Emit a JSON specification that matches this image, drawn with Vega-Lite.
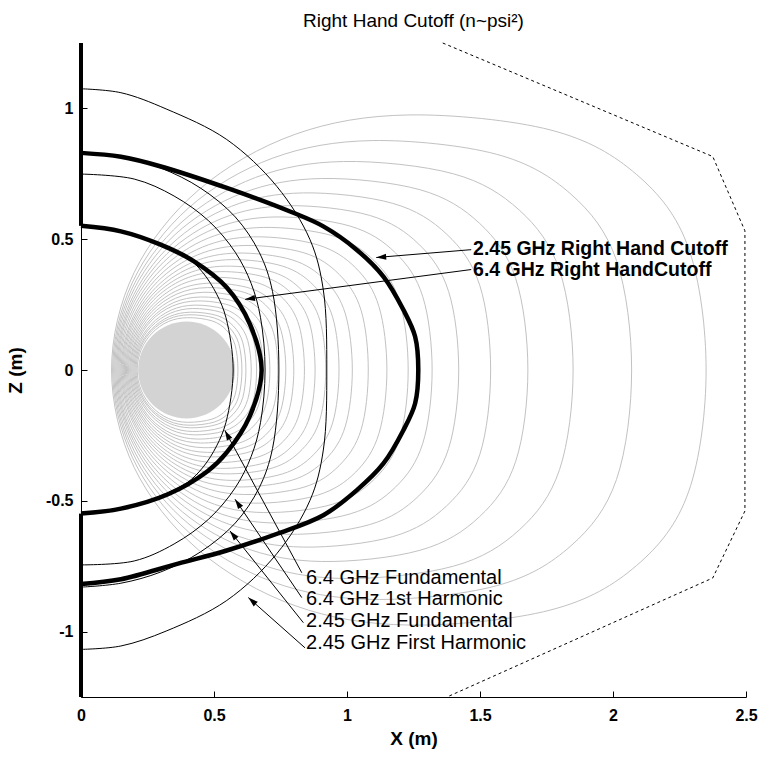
{
  "$schema": "https://vega.github.io/schema/vega-lite/v6.json",
  "width": 665,
  "height": 654,
  "autosize": {"type": "none"},
  "padding": {"left": 81, "top": 43, "right": 16, "bottom": 62},
  "background": "white",
  "config": {"view": {"stroke": null}, "font": "Liberation Sans"},
  "title": {"text": "Right Hand Cutoff (n~psi²)", "fontSize": 19, "fontWeight": "normal", "font": "Liberation Sans", "color": "black", "anchor": "middle", "offset": 4},
  "datasets": {
    "contours": [
      {"c":1,"i":[0,1,2,3,4,5,6,7,8,9,10,11,12,13,14,15],"x":[2.35,2.284,2.089,1.767,1.233,0.805,0.443,0.2,0.115,0.2,0.443,0.805,1.233,1.767,2.089,2.284],"z":[0,0.466,0.747,0.917,0.975,0.901,0.689,0.373,0,-0.373,-0.689,-0.901,-0.975,-0.917,-0.747,-0.466]},
      {"c":2,"i":[0,1,2,3,4,5,6,7,8,9,10,11,12,13,14,15],"x":[2.07,2.013,1.842,1.561,1.095,0.721,0.405,0.194,0.119,0.194,0.405,0.721,1.095,1.561,1.842,2.013],"z":[0,0.419,0.672,0.825,0.877,0.81,0.62,0.336,0,-0.336,-0.62,-0.81,-0.877,-0.825,-0.672,-0.419]},
      {"c":3,"i":[0,1,2,3,4,5,6,7,8,9,10,11,12,13,14,15],"x":[1.85,1.799,1.648,1.4,0.987,0.656,0.376,0.189,0.123,0.189,0.376,0.656,0.987,1.4,1.648,1.799],"z":[0,0.381,0.611,0.75,0.797,0.736,0.563,0.305,0,-0.305,-0.563,-0.736,-0.797,-0.75,-0.611,-0.381]},
      {"c":4,"i":[0,1,2,3,4,5,6,7,8,9,10,11,12,13,14,15],"x":[1.68,1.634,1.498,1.275,0.904,0.606,0.354,0.186,0.127,0.186,0.354,0.606,0.904,1.275,1.498,1.634],"z":[0,0.35,0.561,0.689,0.732,0.676,0.518,0.28,0,-0.28,-0.518,-0.676,-0.732,-0.689,-0.561,-0.35]},
      {"c":5,"i":[0,1,2,3,4,5,6,7,8,9,10,11,12,13,14,15],"x":[1.54,1.499,1.375,1.172,0.836,0.566,0.338,0.185,0.131,0.185,0.338,0.566,0.836,1.172,1.375,1.499],"z":[0,0.324,0.519,0.637,0.677,0.626,0.479,0.259,0,-0.259,-0.479,-0.626,-0.677,-0.637,-0.519,-0.324]},
      {"c":6,"i":[0,1,2,3,4,5,6,7,8,9,10,11,12,13,14,15],"x":[1.42,1.382,1.27,1.085,0.778,0.531,0.323,0.184,0.135,0.184,0.323,0.531,0.778,1.085,1.27,1.382],"z":[0,0.3,0.481,0.591,0.628,0.58,0.444,0.241,0,-0.241,-0.444,-0.58,-0.628,-0.591,-0.481,-0.3]},
      {"c":7,"i":[0,1,2,3,4,5,6,7,8,9,10,11,12,13,14,15],"x":[1.32,1.285,1.182,1.012,0.73,0.503,0.312,0.183,0.139,0.183,0.312,0.503,0.73,1.012,1.182,1.285],"z":[0,0.28,0.448,0.55,0.585,0.541,0.414,0.224,0,-0.224,-0.414,-0.541,-0.585,-0.55,-0.448,-0.28]},
      {"c":8,"i":[0,1,2,3,4,5,6,7,8,9,10,11,12,13,14,15],"x":[1.23,1.198,1.103,0.946,0.687,0.478,0.302,0.184,0.143,0.184,0.302,0.478,0.687,0.946,1.103,1.198],"z":[0,0.261,0.417,0.513,0.545,0.504,0.385,0.209,0,-0.209,-0.385,-0.504,-0.545,-0.513,-0.417,-0.261]},
      {"c":9,"i":[0,1,2,3,4,5,6,7,8,9,10,11,12,13,14,15],"x":[1.15,1.12,1.033,0.888,0.649,0.457,0.294,0.185,0.147,0.185,0.294,0.457,0.649,0.888,1.033,1.12],"z":[0,0.243,0.39,0.479,0.509,0.47,0.36,0.195,0,-0.195,-0.36,-0.47,-0.509,-0.479,-0.39,-0.243]},
      {"c":10,"i":[0,1,2,3,4,5,6,7,8,9,10,11,12,13,14,15],"x":[1.08,1.053,0.971,0.838,0.616,0.438,0.287,0.187,0.151,0.187,0.287,0.438,0.616,0.838,0.971,1.053],"z":[0,0.228,0.365,0.448,0.476,0.44,0.337,0.182,0,-0.182,-0.337,-0.44,-0.476,-0.448,-0.365,-0.228]},
      {"c":11,"i":[0,1,2,3,4,5,6,7,8,9,10,11,12,13,14,15],"x":[1.02,0.994,0.919,0.794,0.588,0.422,0.282,0.188,0.155,0.188,0.282,0.422,0.588,0.794,0.919,0.994],"z":[0,0.214,0.342,0.421,0.447,0.413,0.316,0.171,0,-0.171,-0.316,-0.413,-0.447,-0.421,-0.342,-0.214]},
      {"c":12,"i":[0,1,2,3,4,5,6,7,8,9,10,11,12,13,14,15],"x":[0.97,0.946,0.875,0.758,0.565,0.41,0.278,0.19,0.159,0.19,0.278,0.41,0.565,0.758,0.875,0.946],"z":[0,0.202,0.323,0.397,0.422,0.39,0.298,0.162,0,-0.162,-0.298,-0.39,-0.422,-0.397,-0.323,-0.202]},
      {"c":13,"i":[0,1,2,3,4,5,6,7,8,9,10,11,12,13,14,15],"x":[0.92,0.898,0.831,0.722,0.542,0.397,0.274,0.192,0.163,0.192,0.274,0.397,0.542,0.722,0.831,0.898],"z":[0,0.19,0.304,0.374,0.397,0.367,0.281,0.152,0,-0.152,-0.281,-0.367,-0.397,-0.374,-0.304,-0.19]},
      {"c":14,"i":[0,1,2,3,4,5,6,7,8,9,10,11,12,13,14,15],"x":[0.88,0.859,0.796,0.694,0.524,0.387,0.272,0.195,0.167,0.195,0.272,0.387,0.524,0.694,0.796,0.859],"z":[0,0.18,0.288,0.354,0.376,0.347,0.266,0.144,0,-0.144,-0.266,-0.347,-0.376,-0.354,-0.288,-0.18]},
      {"c":15,"i":[0,1,2,3,4,5,6,7,8,9,10,11,12,13,14,15],"x":[0.84,0.82,0.762,0.665,0.506,0.377,0.27,0.197,0.171,0.197,0.27,0.377,0.506,0.665,0.762,0.82],"z":[0,0.169,0.271,0.333,0.354,0.327,0.25,0.136,0,-0.136,-0.25,-0.327,-0.354,-0.333,-0.271,-0.169]},
      {"c":16,"i":[0,1,2,3,4,5,6,7,8,9,10,11,12,13,14,15],"x":[0.8,0.781,0.727,0.637,0.488,0.368,0.267,0.199,0.175,0.199,0.267,0.368,0.488,0.637,0.727,0.781],"z":[0,0.159,0.254,0.312,0.332,0.307,0.235,0.127,0,-0.127,-0.235,-0.307,-0.332,-0.312,-0.254,-0.159]},
      {"c":17,"i":[0,1,2,3,4,5,6,7,8,9,10,11,12,13,14,15],"x":[0.77,0.752,0.701,0.616,0.475,0.362,0.266,0.202,0.179,0.202,0.266,0.362,0.475,0.616,0.701,0.752],"z":[0,0.151,0.241,0.296,0.315,0.291,0.223,0.121,0,-0.121,-0.223,-0.291,-0.315,-0.296,-0.241,-0.151]},
      {"c":18,"i":[0,1,2,3,4,5,6,7,8,9,10,11,12,13,14,15],"x":[0.74,0.724,0.675,0.595,0.462,0.355,0.265,0.205,0.183,0.205,0.265,0.355,0.462,0.595,0.675,0.724],"z":[0,0.142,0.228,0.279,0.297,0.274,0.21,0.114,0,-0.114,-0.21,-0.274,-0.297,-0.279,-0.228,-0.142]},
      {"c":19,"i":[0,1,2,3,4,5,6,7,8,9,10,11,12,13,14,15],"x":[0.71,0.695,0.649,0.574,0.449,0.349,0.264,0.207,0.187,0.207,0.264,0.349,0.449,0.574,0.649,0.695],"z":[0,0.133,0.214,0.263,0.279,0.258,0.197,0.107,0,-0.107,-0.197,-0.258,-0.279,-0.263,-0.214,-0.133]},
      {"c":20,"i":[0,1,2,3,4,5,6,7,8,9,10,11,12,13,14,15],"x":[0.685,0.67,0.627,0.556,0.438,0.343,0.263,0.21,0.191,0.21,0.263,0.343,0.438,0.556,0.627,0.67],"z":[0,0.126,0.202,0.248,0.264,0.244,0.187,0.101,0,-0.101,-0.187,-0.244,-0.264,-0.248,-0.202,-0.126]},
      {"c":21,"i":[0,1,2,3,4,5,6,7,8,9,10,11,12,13,14,15],"x":[0.66,0.647,0.606,0.539,0.428,0.339,0.264,0.213,0.195,0.213,0.264,0.339,0.428,0.539,0.606,0.647],"z":[0,0.119,0.19,0.233,0.248,0.229,0.175,0.095,0,-0.095,-0.175,-0.229,-0.248,-0.233,-0.19,-0.119]},
      {"c":22,"i":[0,1,2,3,4,5,6,7,8,9,10,11,12,13,14,15],"x":[0.64,0.627,0.589,0.525,0.42,0.336,0.264,0.216,0.199,0.216,0.264,0.336,0.42,0.525,0.589,0.627],"z":[0,0.112,0.18,0.221,0.235,0.217,0.166,0.09,0,-0.09,-0.166,-0.217,-0.235,-0.221,-0.18,-0.112]},
      {"c":23,"i":[0,1,2,3,4,5,6,7,8,9,10,11,12,13,14,15],"x":[0.62,0.608,0.572,0.512,0.412,0.332,0.265,0.219,0.203,0.219,0.265,0.332,0.412,0.512,0.572,0.608],"z":[0,0.106,0.169,0.208,0.221,0.204,0.156,0.085,0,-0.085,-0.156,-0.204,-0.221,-0.208,-0.169,-0.106]},
      {"c":24,"i":[0,1,2,3,4,5,6,7,8,9,10,11,12,13,14,15],"x":[0.605,0.593,0.558,0.501,0.406,0.33,0.265,0.222,0.207,0.222,0.265,0.33,0.406,0.501,0.558,0.593],"z":[0,0.101,0.162,0.199,0.211,0.195,0.149,0.081,0,-0.081,-0.149,-0.195,-0.211,-0.199,-0.162,-0.101]},
      {"c":25,"i":[0,1,2,3,4,5,6,7,8,9,10,11,12,13,14,15],"x":[0.59,0.579,0.546,0.492,0.401,0.328,0.267,0.226,0.211,0.226,0.267,0.328,0.401,0.492,0.546,0.579],"z":[0,0.096,0.153,0.188,0.2,0.185,0.141,0.077,0,-0.077,-0.141,-0.185,-0.2,-0.188,-0.153,-0.096]}
    ],
    "coil": [{"x": 0.397, "z": 0}],
    "resonance": [
      {"r":"2.45 GHz First Harmonic","i":[0,1,2,3,4,5,6,7,8,9,10,11,12,13,14],"x":[0,0.15,0.32,0.548,0.736,0.861,0.911,0.924,0.911,0.861,0.736,0.548,0.32,0.15,0],"z":[1.075,1.06,0.998,0.881,0.702,0.498,0.306,0,-0.306,-0.498,-0.702,-0.881,-0.998,-1.055,-1.068]},
      {"r":"2.45 GHz Fundamental","i":[0,1,2,3,4,5,6,7,8,9,10,11,12,13,14],"x":[0,0.15,0.3,0.45,0.58,0.67,0.72,0.744,0.72,0.67,0.58,0.45,0.3,0.15,0],"z":[0.83,0.815,0.772,0.695,0.585,0.45,0.3,0,-0.3,-0.45,-0.585,-0.695,-0.772,-0.815,-0.83]},
      {"r":"6.4 GHz 1st Harmonic","i":[0,1,2,3,4,5,6,7,8,9,10,11,12,13,14],"x":[0,0.2,0.35,0.48,0.58,0.64,0.675,0.692,0.675,0.64,0.58,0.48,0.35,0.2,0],"z":[0.749,0.73,0.665,0.57,0.45,0.33,0.2,0,-0.2,-0.33,-0.45,-0.57,-0.665,-0.73,-0.745]},
      {"r":"6.4 GHz Fundamental","i":[0,1,2,3,4,5,6,7,8,9,10,11,12,13,14],"x":[0,0.15,0.297,0.4,0.46,0.51,0.545,0.572,0.545,0.51,0.46,0.4,0.297,0.15,0],"z":[0.553,0.532,0.482,0.43,0.37,0.29,0.2,0,-0.2,-0.29,-0.37,-0.43,-0.482,-0.532,-0.551]}
    ],
    "cutoff": [
      {"k":"2.45 GHz","i":[0,1,2,3,4,5,6,7,8,9,10,11,12,13,14,15,16,17,18,19,20],"x":[0,0.15,0.297,0.548,0.786,0.911,1.036,1.137,1.212,1.256,1.268,1.256,1.212,1.137,1.036,0.911,0.74,0.548,0.365,0.15,0],"z":[0.83,0.815,0.779,0.696,0.606,0.549,0.46,0.357,0.23,0.128,0,-0.128,-0.23,-0.357,-0.46,-0.555,-0.625,-0.69,-0.74,-0.8,-0.818]},
      {"k":"6.4 GHz","i":[0,1,2,3,4,5,6,7,8,9,10,11,12],"x":[0,0.15,0.297,0.422,0.548,0.635,0.679,0.635,0.548,0.477,0.327,0.15,0],"z":[0.551,0.53,0.48,0.417,0.315,0.175,0,-0.175,-0.315,-0.386,-0.475,-0.53,-0.549]}
    ],
    "edge": [
      {"s":1,"x":0,"z":1.25},{"s":1,"x":0,"z":0.551},
      {"s":2,"x":0,"z":-0.549},{"s":2,"x":0,"z":-1.25}
    ],
    "wall": [
      {"i":0,"x":1.36,"z":1.25},{"i":1,"x":2.375,"z":0.816},{"i":2,"x":2.496,"z":0.532},
      {"i":3,"x":2.496,"z":-0.539},{"i":4,"x":2.375,"z":-0.795},{"i":5,"x":1.376,"z":-1.25}
    ],
    "arrows": [
      {"name":"rh245","x":1.11,"z":0.43,"x2":1.467,"z2":0.46},
      {"name":"rh64","x":0.617,"z":0.27,"x2":1.467,"z2":0.384},
      {"name":"f64","x":0.541,"z":-0.231,"x2":0.83,"z2":-0.775},
      {"name":"h64","x":0.579,"z":-0.494,"x2":0.83,"z2":-0.87},
      {"name":"f245","x":0.56,"z":-0.615,"x2":0.836,"z2":-0.966},
      {"name":"h245","x":0.629,"z":-0.87,"x2":0.842,"z2":-1.062}
    ],
    "labels": [
      {"g":"cut","t":"2.45 GHz Right Hand Cutoff","x":1.474,"z":0.461},
      {"g":"cut","t":"6.4 GHz Right HandCutoff","x":1.474,"z":0.384},
      {"g":"res","t":"6.4 GHz Fundamental","x":0.846,"z":-0.795},
      {"g":"res","t":"6.4 GHz 1st Harmonic","x":0.846,"z":-0.877},
      {"g":"res","t":"2.45 GHz Fundamental","x":0.846,"z":-0.96},
      {"g":"res","t":"2.45 GHz First Harmonic","x":0.846,"z":-1.044}
    ]
  },
  "encoding": {
    "x": {"field": "x", "type": "quantitative",
      "scale": {"domain": [0, 2.5], "nice": false, "zero": false},
      "axis": {"title": "X (m)", "values": [0, 0.5, 1, 1.5, 2, 2.5], "format": "~g", "grid": false,
        "domainColor": "black", "domainWidth": 1, "tickColor": "black", "tickSize": -6, "tickWidth": 1,
        "labelFont": "Liberation Sans", "labelFontSize": 16, "labelFontWeight": "bold", "labelColor": "black", "labelPadding": 16,
        "labelFlush": false, "labelOverlap": false,
        "titleFont": "Liberation Sans", "titleFontSize": 19, "titleFontWeight": "bold", "titleColor": "black", "titlePadding": 6}},
    "y": {"field": "z", "type": "quantitative",
      "scale": {"domain": [-1.25, 1.25], "nice": false, "zero": false},
      "axis": {"title": "Z (m)", "values": [-1, -0.5, 0, 0.5, 1], "labelExpr": "replace(format(datum.value, '~g'), '\u2212', '-')", "grid": false,
        "domainColor": "black", "domainWidth": 1, "tickColor": "black", "tickSize": -6, "tickWidth": 1,
        "labelFont": "Liberation Sans", "labelFontSize": 16, "labelFontWeight": "bold", "labelColor": "black", "labelPadding": 14,
        "labelFlush": false, "labelOverlap": false,
        "titleFont": "Liberation Sans", "titleFontSize": 19, "titleFontWeight": "bold", "titleColor": "black", "titlePadding": 20}}
  },
  "layer": [
    {
      "data": {"name": "contours"},
      "transform": [{"flatten": ["i", "x", "z"]}],
      "mark": {"type": "line", "interpolate": "cardinal-closed", "stroke": "#c2c2c2", "strokeWidth": 1},
      "encoding": {"detail": {"field": "c", "type": "nominal"}, "order": {"field": "i", "type": "quantitative"}}
    },
    {
      "data": {"name": "coil"},
      "mark": {"type": "point", "shape": "circle", "filled": true, "fill": "#d3d3d3", "opacity": 1, "strokeWidth": 0, "size": 9400}
    },
    {
      "data": {"name": "resonance"},
      "transform": [{"flatten": ["i", "x", "z"]}],
      "mark": {"type": "line", "interpolate": "catmull-rom", "stroke": "black", "strokeWidth": 1},
      "encoding": {"detail": {"field": "r", "type": "nominal"}, "order": {"field": "i", "type": "quantitative"}}
    },
    {
      "data": {"name": "cutoff"},
      "transform": [{"flatten": ["i", "x", "z"]}],
      "mark": {"type": "line", "interpolate": "catmull-rom", "stroke": "black", "strokeWidth": 4.5},
      "encoding": {"detail": {"field": "k", "type": "nominal"}, "order": {"field": "i", "type": "quantitative"}}
    },
    {
      "data": {"name": "edge"},
      "mark": {"type": "line", "stroke": "black", "strokeWidth": 4},
      "encoding": {"detail": {"field": "s", "type": "nominal"}, "order": {"field": "z", "type": "quantitative"}}
    },
    {
      "data": {"name": "wall"},
      "mark": {"type": "line", "stroke": "black", "strokeWidth": 1, "strokeDash": [3, 3]},
      "encoding": {"order": {"field": "i", "type": "quantitative"}}
    },
    {
      "data": {"name": "arrows"},
      "mark": {"type": "rule", "stroke": "black", "strokeWidth": 1},
      "encoding": {"x2": {"field": "x2"}, "y2": {"field": "z2"}}
    },
    {
      "data": {"name": "arrows"},
      "mark": {"type": "point", "shape": "M0,0L-0.55,1.8L0.55,1.8Z", "filled": true, "fill": "black", "opacity": 1, "strokeWidth": 0, "size": 121},
      "encoding": {"angle": {"field": "name", "type": "nominal", "legend": null,
        "scale": {"type": "ordinal", "domain": ["rh245", "rh64", "f64", "h64", "f245", "h245"], "range": [266, 262.5, 331.7, 325.9, 321.4, 311.4]}}}
    },
    {
      "data": {"name": "labels"},
      "transform": [{"filter": "datum.g == 'cut'"}],
      "mark": {"type": "text", "align": "left", "baseline": "middle", "font": "Liberation Sans", "fontSize": 19.5, "fontWeight": "bold", "color": "black"},
      "encoding": {"text": {"field": "t"}}
    },
    {
      "data": {"name": "labels"},
      "transform": [{"filter": "datum.g == 'res'"}],
      "mark": {"type": "text", "align": "left", "baseline": "middle", "font": "Liberation Sans", "fontSize": 20, "fontWeight": "normal", "color": "black"},
      "encoding": {"text": {"field": "t"}}
    }
  ]
}
